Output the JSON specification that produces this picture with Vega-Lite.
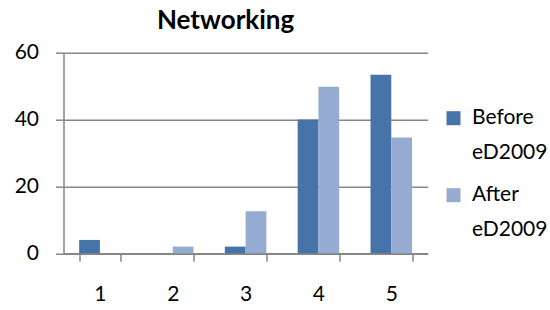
{
  "$schema": "https://vega.github.io/schema/vega-lite/v6.json",
  "autosize": {"type": "none"},
  "padding": {"left": 63.5, "top": 52.7, "right": 122.3, "bottom": 56.7},
  "width": 364.2,
  "height": 200.6,
  "background": "white",
  "title": {"text": "Networking", "font": "Lato", "fontSize": 26, "fontWeight": "bold", "color": "#000000", "anchor": "middle", "dx": -20, "offset": 8},
  "data": {"values": [
    {"rating": "1", "period": "Before eD2009", "pct": 4.0},
    {"rating": "1", "period": "After eD2009", "pct": 0},
    {"rating": "2", "period": "Before eD2009", "pct": 0},
    {"rating": "2", "period": "After eD2009", "pct": 2.0},
    {"rating": "3", "period": "Before eD2009", "pct": 2.0},
    {"rating": "3", "period": "After eD2009", "pct": 12.6},
    {"rating": "4", "period": "Before eD2009", "pct": 40.0},
    {"rating": "4", "period": "After eD2009", "pct": 49.8},
    {"rating": "5", "period": "Before eD2009", "pct": 53.4},
    {"rating": "5", "period": "After eD2009", "pct": 34.6}
  ]},
  "mark": {"type": "bar", "strokeWidth": 0},
  "encoding": {
    "x": {"field": "rating", "type": "ordinal", "title": null,
      "scale": {"paddingInner": 0.43, "paddingOuter": 0.215},
      "axis": {"labelAngle": 0, "labelFont": "Lato", "labelFontSize": 21, "labelColor": "#000000", "labelPadding": 22, "labelBaseline": "top",
        "tickBand": "extent", "tickSize": 8, "tickColor": "#868686", "tickWidth": 1.5, "domainColor": "#868686", "domainWidth": 1.5}},
    "xOffset": {"field": "period", "type": "nominal", "sort": ["Before eD2009", "After eD2009"]},
    "y": {"field": "pct", "type": "quantitative", "title": null,
      "scale": {"domain": [0, 60]},
      "axis": {"values": [0, 20, 40, 60], "labelFont": "Lato", "labelFontSize": 21, "labelColor": "#000000", "labelPadding": 17,
        "tickSize": 8, "tickColor": "#868686", "tickWidth": 1.5, "domainColor": "#868686", "domainWidth": 1.5,
        "grid": true, "gridColor": "#868686", "gridWidth": 1.5}},
    "color": {"field": "period", "type": "nominal", "sort": ["Before eD2009", "After eD2009"],
      "scale": {"domain": ["Before eD2009", "After eD2009"], "range": ["#4673a8", "#95abd2"]},
      "legend": {"title": null, "orient": "none", "legendX": 379.5, "legendY": 55, "symbolType": "square", "symbolSize": 196,
        "symbolStrokeWidth": 0, "labelFont": "Lato", "labelFontSize": 21, "labelColor": "#000000", "labelOffset": 8,
        "labelExpr": "split(datum.label, ' ')", "labelBaseline": "middle", "rowPadding": 20}}
  },
  "config": {
    "view": {"stroke": null},
    "style": {"guide-label": {"lineHeight": 35}}
  }
}
